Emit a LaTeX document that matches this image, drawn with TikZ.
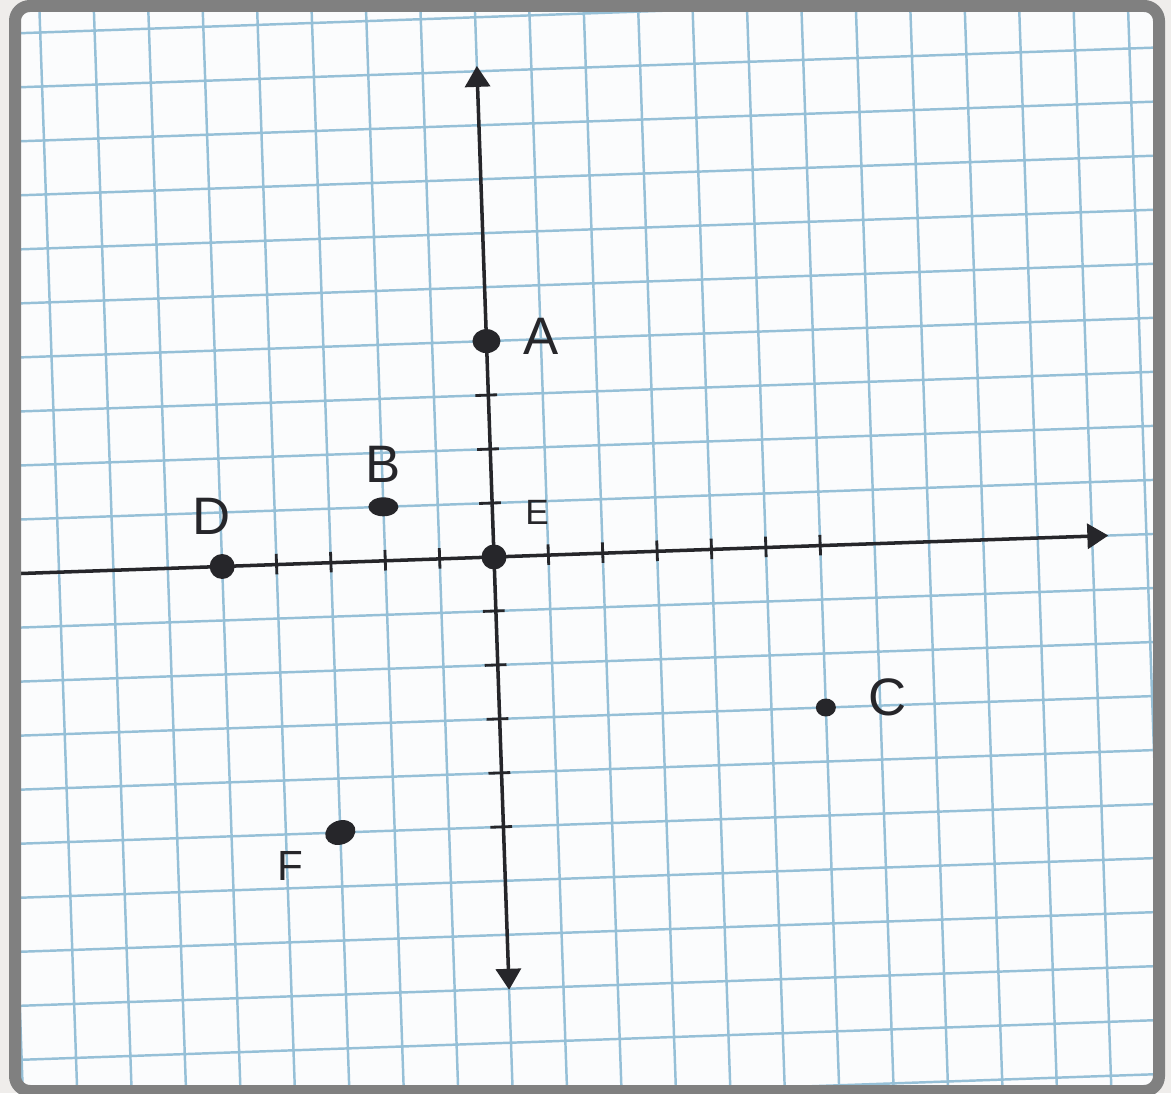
\documentclass[tikz,border=0pt]{standalone}
\usepackage{fontspec}
\setmainfont{Liberation Sans}
\usetikzlibrary{shapes.geometric, arrows.meta, positioning, calc}
\definecolor{inkc}{RGB}{38,38,42}
\definecolor{gridc}{RGB}{150,192,215}
\definecolor{framec}{RGB}{128,128,128}
\definecolor{paperc}{RGB}{251,252,253}
\definecolor{backc}{RGB}{239,237,235}

\begin{document}
\begin{tikzpicture}[
    on grid,
    dot/.style={ellipse, fill=inkc, inner sep=0pt, minimum width=0.5cm, minimum height=0.5cm},
    smalldot/.style={dot, minimum width=0.4cm, minimum height=0.36cm},
    flatdot/.style={dot, minimum width=0.6cm, minimum height=0.38cm},
    letter/.style={text=inkc, inner sep=0pt, font=\fontsize{30}{30}\selectfont},
    smallletter/.style={letter, font=\fontsize{20}{20}\selectfont},
    axisline/.style={draw=inkc, line width=2pt},
    tickmark/.style={draw=inkc, line width=1.6pt},
    arrow/.style={-{Triangle[length=0.42cm, width=0.5cm]}},
    botharrows/.style={{Triangle[length=0.42cm, width=0.5cm]}-{Triangle[length=0.42cm, width=0.5cm]}},
]

% Background
\fill[backc] (0,0) rectangle (23.42,21.86);
\useasboundingbox (0,0) rectangle (23.42,21.86);
\fill[paperc] (0.42,0.16) rectangle (23.06,21.62);

% Paper, grid and axes
\begin{scope}
\clip (0.42,0.16) rectangle (23.06,21.62);
\begin{scope}[shift={(9.88,10.72)}, rotate=2, x=1.088cm, y=1.08cm]
\draw[gridc, line width=1.4pt, step=1] (-12,-12) grid (14,12);

\coordinate (xleft) at (-10,0);
\coordinate (xright) at (11.3,0);
\coordinate (ybottom) at (0,-8.02);
\coordinate (ytop) at (0,9.1);
\draw[axisline, arrow] (xleft) -- (xright);
\draw[axisline, botharrows] (ybottom) -- (ytop);

\foreach \t in {-4,...,-1,1,2,...,6}
    \draw[tickmark] (\t,-0.18) -- (\t,0.2);
\foreach \t in {-5,...,-1,1,2,3}
    \draw[tickmark] (-0.24,\t) -- (0.16,\t);

% Points
\node[flatdot, minimum width=0.56cm, minimum height=0.48cm] (ptA) at (0,4) {};
\node[flatdot] (ptB) at (-2,1) {};
\node[dot] (ptD) at (-5,0) {};
\node[dot] (ptE) at (0,0) {};
\node[smalldot] (ptC) at (6,-3) {};
\node[flatdot, rotate=20, minimum width=0.62cm, minimum height=0.48cm] (ptF) at (-3,-5) {};
\end{scope}
\end{scope}

% Frame
\draw[framec, line width=0.24cm, rounded corners=0.3cm] (0.30,0.04) rectangle (23.18,21.74);

% Labels
\node[letter, above right=0.1cm and 1.1cm of ptA] (lblA) {A};
\node[letter, above=0.84cm of ptB] (lblB) {B};
\node[letter, above left=1.0cm and 0.22cm of ptD] (lblD) {D};
\node[smallletter, above right=0.9cm and 0.86cm of ptE] (lblE) {E};
\node[letter, above right=0.2cm and 1.24cm of ptC] (lblC) {C};
\node[letter, font=\fontsize{24}{24}\selectfont, below left=0.66cm and 1.0cm of ptF] (lblF) {F};

\end{tikzpicture}
\end{document}
